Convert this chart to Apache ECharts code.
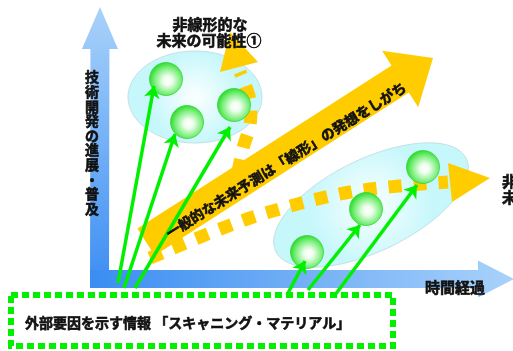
<!DOCTYPE html>
<html><head><meta charset="utf-8">
<script src="https://cdn.jsdelivr.net/npm/echarts@6/dist/echarts.min.js"></script>
<style>html,body{margin:0;padding:0;background:#fff}#c{width:513px;height:351px}</style>
</head><body><div id="c"></div>
<script>
// Diagram space: x = time (0..513, left to right), y = position from top (0..351)
const timeAxisLabel = '時間経過';
const techAxisLabel = '技術開発の進展・普及';
const upperTitle = ['非線形的な', '未来の可能性①'];
const rightTitle = ['非線形的な', '未来の可能性②'];
const linearText = '一般的な未来予測は「線形」の発想をしがち';
const scanText = '外部要因を示す情報 「スキャニング・マテリアル」';

const upperFutures = [[166, 79], [187, 122], [234, 105]];
const lowerFutures = [[307, 252], [366, 209], [423, 167]];
const upperSignals = [[[118, 283], [154, 86]], [[124, 288], [175, 134]], [[135, 288], [230, 127]]];
const lowerSignals = [[[287, 295], [305, 261]], [[308, 290], [360, 225]], [[335, 295], [417, 185]]];
const upperCloud = [195, 97, 67, 46, 0];
const lowerCloud = [371, 205, 106, 46, 26];
const linearPath = [[146, 242], [433, 58]];
const upperPath = [[238, 172], [243, 148], [250, 125], [250, 100], [240, 72]];
const lowerPath = [[150, 258], [250, 218], [350, 192], [448, 182]];
const upperHead = [[220, 72], [230, 32], [258, 62]];
const lowerHead = [[448, 163], [490, 178], [452, 202]];
const techAxisPath = [[99.5, 288], [100, 7]];
const timeAxisPath = [[90, 279], [514, 279]];
const scanBox = [[11, 295], [393, 346]];
const upperTitlePos = [[210, 24], [209, 40]];
const rightTitlePos = [[502, 181], [502, 197]];
const techLabelTop = [92, 77];
const techLabelStep = 14.6;
const timeLabelPos = [455, 287];
const scanTextPos = [25, 323];
const linearTextPos = [286, 160];

const FONT = '"Noto Sans CJK JP", "Noto Sans CJK SC", sans-serif';
const INK = '#111111';

function arrowPoly(api, s, t, sh, hh, hl) {
  const a = api.coord(s), b = api.coord(t);
  const dx = b[0] - a[0], dy = b[1] - a[1];
  const L = Math.hypot(dx, dy);
  const ux = dx / L, uy = dy / L, nx = -uy, ny = ux;
  const bx = b[0] - ux * hl, by = b[1] - uy * hl;
  return [
    [a[0] + nx * sh, a[1] + ny * sh],
    [bx + nx * sh, by + ny * sh],
    [bx + nx * hh, by + ny * hh],
    [b[0], b[1]],
    [bx - nx * hh, by - ny * hh],
    [bx - nx * sh, by - ny * sh],
    [a[0] - nx * sh, a[1] - ny * sh]
  ];
}
function ellipsePts(api, e) {
  const th = e[4] * Math.PI / 180, pts = [];
  for (let i = 0; i < 90; i++) {
    const t = i / 90 * Math.PI * 2;
    const x = e[0] + e[2] * Math.cos(t) * Math.cos(th) + e[3] * Math.sin(t) * Math.sin(th);
    const y = e[1] - e[2] * Math.cos(t) * Math.sin(th) + e[3] * Math.sin(t) * Math.cos(th);
    pts.push(api.coord([x, y]));
  }
  return pts;
}
function txt(x, y, s, size, align, rot) {
  return { type: 'text', x: x, y: y, rotation: rot || 0,
    style: { text: s, font: 'bold ' + size + 'px ' + FONT, fill: INK, stroke: INK, lineWidth: 0.6,
      align: align || 'center', verticalAlign: 'middle' } };
}
const cloudFill = { type: 'radial', x: 0.5, y: 0.5, r: 0.5, colorStops: [{ offset: 0, color: '#fbffff' }, { offset: 1, color: '#c6f7fb' }] };
const sphereFill = { type: 'radial', x: 0.55, y: 0.55, r: 0.55, colorStops: [
  { offset: 0, color: '#ffffff' }, { offset: 0.25, color: '#eefeee' }, { offset: 0.7, color: '#7cef7c' }, { offset: 1, color: '#2bdc2b' }] };

const chart = echarts.init(document.getElementById('c'), null, { renderer: 'canvas' });
chart.setOption({
  animation: false,
  grid: { left: 0, right: 0, top: 0, bottom: 0 },
  xAxis: { type: 'value', min: 0, max: 513, show: false },
  yAxis: { type: 'value', min: 0, max: 351, inverse: true, show: false },
  series: [
    { // blue axes
      type: 'custom', z: 1, clip: false, silent: true, data: [0],
      renderItem: function (p, api) {
        return { type: 'group', children: [
          { type: 'polygon', shape: { points: arrowPoly(api, techAxisPath[0], techAxisPath[1], 9.5, 18, 42) },
            style: { fill: { type: 'linear', x: 0, y: 0, x2: 0, y2: 1, colorStops: [{ offset: 0, color: '#a9d2fa' }, { offset: 1, color: '#3b8df2' }] } } },
          { type: 'polygon', shape: { points: arrowPoly(api, timeAxisPath[0], timeAxisPath[1], 9, 18.5, 36) },
            style: { fill: { type: 'linear', x: 0, y: 0, x2: 1, y2: 0, colorStops: [{ offset: 0, color: '#3b8df2' }, { offset: 1, color: '#a9d2fa' }] } } }
        ] };
      }
    },
    { // clouds
      type: 'custom', z: 2, clip: false, silent: true, data: [0],
      renderItem: function (p, api) {
        return { type: 'group', children: [upperCloud, lowerCloud].map(function (e) {
          return { type: 'polygon', shape: { points: ellipsePts(api, e) }, style: { fill: cloudFill, stroke: '#c4dfe4', lineWidth: 1 } };
        }) };
      }
    },
    { // dotted yellow non-linear paths
      type: 'custom', z: 3, clip: false, silent: true, data: [0],
      renderItem: function (p, api) {
        const c = function (arr) { return arr.map(function (q) { return api.coord(q); }); };
        return { type: 'group', children: [
          { type: 'polyline', shape: { points: c(upperPath), smooth: 0.3 }, style: { stroke: '#ffcc00', lineWidth: 13, lineDash: [13, 12], fill: null } },
          { type: 'polyline', shape: { points: c(lowerPath), smooth: 0.3 }, style: { stroke: '#ffcc00', lineWidth: 13, lineDash: [13, 12], fill: null } },
          { type: 'polygon', shape: { points: c(upperHead) }, style: { fill: '#ffcc00' } },
          { type: 'polygon', shape: { points: c(lowerHead) }, style: { fill: '#ffcc00' } }
        ] };
      }
    },
    { // linear forecast arrow
      type: 'custom', z: 4, clip: false, silent: true, data: [0],
      renderItem: function (p, api) {
        return { type: 'polygon', shape: { points: arrowPoly(api, linearPath[0], linearPath[1], 16, 33.5, 39) }, style: { fill: '#ffcc00' } };
      }
    },
    { // future spheres
      type: 'scatter', z: 5, silent: true, symbol: 'circle', symbolSize: 33,
      data: upperFutures.concat(lowerFutures),
      itemStyle: { color: sphereFill, opacity: 1, borderColor: '#3ad43a', borderWidth: 0.8 }
    },
    { // scanning signals
      type: 'lines', coordinateSystem: 'cartesian2d', z: 6, silent: true,
      symbol: ['none', 'arrow'], symbolSize: 12,
      lineStyle: { color: '#00f000', width: 3.5, opacity: 1, curveness: 0 },
      data: upperSignals.concat(lowerSignals).map(function (s) { return { coords: s }; })
    },
    { // box and texts
      type: 'custom', z: 7, clip: false, silent: true, data: [0],
      renderItem: function (p, api) {
        const b0 = api.coord(scanBox[0]), b1 = api.coord(scanBox[1]);
        const lp = api.coord(linearTextPos);
        const kids = [
          { type: 'rect', shape: { x: b0[0], y: b0[1], width: b1[0] - b0[0], height: b1[1] - b0[1] },
            style: { fill: null, stroke: '#00f000', lineWidth: 6, lineDash: [7, 4] } },
          txt(lp[0], lp[1], linearText, 14, 'center', 32 * Math.PI / 180)
        ];
        upperTitle.forEach(function (t, i) {
          const q = api.coord(upperTitlePos[i]);
          kids.push(txt(q[0], q[1], t, 15, 'center'));
        });
        rightTitle.forEach(function (t, i) {
          const q = api.coord(rightTitlePos[i]);
          kids.push(txt(q[0], q[1], t, 15, 'left'));
        });
        techAxisLabel.split('').forEach(function (ch, i) {
          const q = api.coord([techLabelTop[0], techLabelTop[1] + i * techLabelStep]);
          kids.push(txt(q[0], q[1], ch, 14, 'center'));
        });
        const xp = api.coord(timeLabelPos);
        kids.push(txt(xp[0], xp[1], timeAxisLabel, 15, 'center'));
        const sp = api.coord(scanTextPos);
        kids.push(txt(sp[0], sp[1], scanText, 14, 'left'));
        return { type: 'group', children: kids };
      }
    }
  ]
});
</script></body></html>
